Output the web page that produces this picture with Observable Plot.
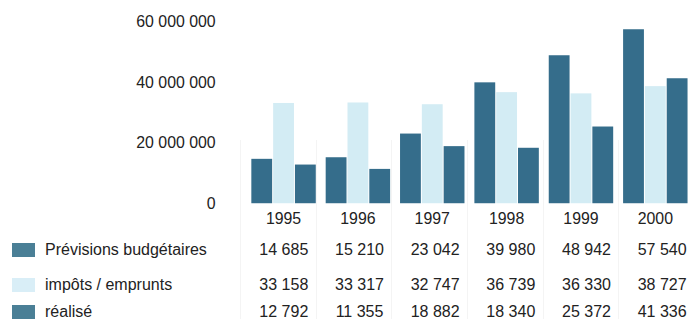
<!DOCTYPE html>
<html>
<head>
<meta charset="utf-8">
<script src="https://cdn.jsdelivr.net/npm/d3@7"></script>
<script src="https://cdn.jsdelivr.net/npm/@observablehq/plot@0.6"></script>
<style>
  html, body { margin: 0; padding: 0; background: #fff; overflow: hidden; }
  #wrap { position: relative; width: 694px; height: 319px; overflow: hidden; font-family: "Liberation Sans", Arial, sans-serif; color: #222; }
  #chart { position: absolute; left: 0; top: 0; }
  .cell { position: absolute; font-size: 16px; line-height: 18px; white-space: nowrap; }
  .num { width: 76px; text-align: center; }
  .sw { position: absolute; width: 23px; height: 14px; }
  .sep { position: absolute; width: 1px; background: #f4f4f4; }
</style>
</head>
<body>
<div id="wrap"><div id="chart"></div></div>
<script>
const years = ["1995", "1996", "1997", "1998", "1999", "2000"];
const series = ["Prévisions budgétaires", "impôts / emprunts", "réalisé"];
const previsions = [14685, 15210, 23042, 39980, 48942, 57540];
const impots = [33158, 33317, 32747, 36739, 36330, 38727];
const realise = [12792, 11355, 18882, 18340, 25372, 41336];
const yTicks = [0, 20000000, 40000000, 60000000];

const dark = "#356d8b";
const light = "#d3ecf4";
const swatchColors = ["#4a7f96", "#d9eef7", "#4a7f96"];

const seriesValues = [previsions, impots, realise];
const rows = [];
years.forEach((yr, i) => {
  series.forEach((s, j) => rows.push({year: yr, series: s, value: seriesValues[j][i] * 1000}));
});

const fmt = d3.formatLocale({thousands: "\u00a0", grouping: [3], decimal: ","}).format(",");

const W = 700, ML = 246;
const chart = Plot.plot({
  width: W, height: 230,
  marginLeft: ML, marginRight: 0, marginTop: 22, marginBottom: 25,
  style: {fontFamily: "'Liberation Sans', Arial, sans-serif", fontSize: "16px", color: "#222", background: "transparent", overflow: "visible"},
  fx: {domain: years, paddingInner: 0.108, paddingOuter: 0.054, label: null, axis: "bottom", tickSize: 0, tickPadding: 9},
  x: {domain: series, axis: null, padding: 0},
  y: {domain: [0, 60000000], ticks: yTicks, tickFormat: fmt, tickSize: 0, tickPadding: 35, label: null},
  color: {domain: series, range: [dark, light, dark]},
  marks: [
    Plot.barY(rows, {fx: "year", x: "series", y: "value", fill: "series", insetLeft: 0.5, insetRight: 0.5})
  ]
});

const wrap = document.getElementById("wrap");
const step = (W - ML) / years.length;

// faint column separators
years.forEach((yr, i) => {
  const d = document.createElement("div");
  d.className = "sep";
  d.style.left = Math.round(ML - 6 + i * step) + "px";
  d.style.top = "140px";
  d.style.height = "179px";
  wrap.appendChild(d);
});

document.getElementById("chart").appendChild(chart);

const rowCenters = [250, 285, 312];
series.forEach((s, j) => {
  const sw = document.createElement("div");
  sw.className = "sw";
  sw.style.left = "12px";
  sw.style.top = (rowCenters[j] - 7) + "px";
  sw.style.background = swatchColors[j];
  wrap.appendChild(sw);
  const lab = document.createElement("div");
  lab.className = "cell";
  lab.style.left = "45px";
  lab.style.top = (rowCenters[j] - 9) + "px";
  lab.textContent = s;
  wrap.appendChild(lab);
  years.forEach((yr, i) => {
    const c = document.createElement("div");
    c.className = "cell num";
    c.style.left = (ML + step * (i + 0.5) - 38) + "px";
    c.style.top = (rowCenters[j] - 9) + "px";
    c.textContent = fmt(seriesValues[j][i]);
    wrap.appendChild(c);
  });
});
</script>
</body>
</html>
